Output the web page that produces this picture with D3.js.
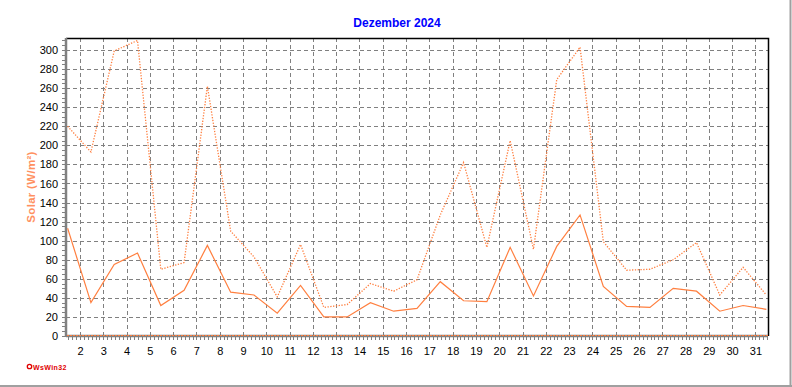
<!DOCTYPE html>
<html>
<head>
<meta charset="utf-8">
<script src="https://cdn.jsdelivr.net/npm/d3@7/dist/d3.min.js"></script>
<style>
  html, body { margin: 0; padding: 0; background: #fff; }
  svg { display: block; }
  text { font-family: "Liberation Sans", Arial, sans-serif; }
</style>
</head>
<body>
<svg id="chart" width="792" height="387"></svg>
<script>
// ---- data ----
const title = "Dezember 2024";
const yLabel = "Solar (W/m²)";
const days = d3.range(1, 32);
// daily maximum (dotted)
const solarMax = [220, 193, 299, 310, 70, 77, 262, 110, 83, 41, 96, 30, 33, 55, 47, 59, 127, 182, 93, 205, 91, 269, 303, 99, 69, 70, 80, 98, 43, 72, 43];
// daily mean (solid)
const solarAvg = [113, 35, 75, 87, 32, 48, 95, 46, 43, 24, 53, 20, 20, 35, 26, 29, 57, 37, 36, 93, 42, 94, 127, 52, 31, 30, 50, 47, 26, 32, 28];
const xTickDays = d3.range(2, 32);
const yTicks = d3.range(0, 301, 20);

// ---- layout ----
const L = 66, R = 768, T = 38, B = 336;
const svg = d3.select("#chart");
const x = d3.scaleLinear().domain([1.40, 31.54]).range([L, R]);
const y = d3.scaleLinear().domain([0, 312.6]).range([B, T]);
const orange = "#FF7F3F";
const grid = "#808080";

// frame of window
svg.append("line").attr("x1", 790.5).attr("x2", 790.5).attr("y1", 0).attr("y2", 387)
  .attr("stroke", "#A0A0A0").attr("stroke-width", 2);
svg.append("line").attr("x1", 0).attr("x2", 792).attr("y1", 386).attr("y2", 386)
  .attr("stroke", "#A0A0A0").attr("stroke-width", 2);

// title
svg.append("text").attr("x", 397).attr("y", 27).attr("text-anchor", "middle")
  .attr("font-size", 12).attr("font-weight", "bold").attr("fill", "#0000FF").text(title);

// gridlines
svg.append("g").selectAll("line").data(yTicks.filter(v => v > 0)).join("line")
  .attr("x1", L).attr("x2", R)
  .attr("y1", d => Math.round(y(d)) + 0.5).attr("y2", d => Math.round(y(d)) + 0.5)
  .attr("stroke", grid).attr("stroke-dasharray", "4,3");
svg.append("g").selectAll("line").data(xTickDays).join("line")
  .attr("x1", d => Math.round(x(d)) + 0.5).attr("x2", d => Math.round(x(d)) + 0.5)
  .attr("y1", T).attr("y2", B)
  .attr("stroke", grid).attr("stroke-dasharray", "4,3");

// top and right border
svg.append("path").attr("d", `M${L},${T + 0.5}H${R + 0.5}V${B}`)
  .attr("fill", "none").attr("stroke", "#000").attr("stroke-width", 1.5);

// y axis
const yAxis = d3.axisLeft(y).tickValues(yTicks).tickSize(0).tickPadding(8);
const gy = svg.append("g").attr("transform", `translate(${L},0)`).call(yAxis);
gy.select(".domain").remove();
gy.selectAll("text").attr("font-size", 11).attr("fill", "#000")
  .style("font-family", "'Liberation Sans', Arial, sans-serif");
// y minor ticks
svg.append("g").selectAll("line").data(d3.range(0, 312, 5)).join("line")
  .attr("x1", L - 4).attr("x2", L)
  .attr("y1", d => Math.round(y(d)) + 0.5).attr("y2", d => Math.round(y(d)) + 0.5)
  .attr("stroke", grid);

// x axis labels
const xAxis = d3.axisBottom(x).tickValues(xTickDays).tickFormat(d3.format("d")).tickSize(0).tickPadding(11);
const gx = svg.append("g").attr("transform", `translate(0,${B})`).call(xAxis);
gx.select(".domain").remove();
gx.selectAll("text").attr("font-size", 11).attr("fill", "#000")
  .style("font-family", "'Liberation Sans', Arial, sans-serif");
// x minor ticks (every 4 h)
const minor = d3.range(1.5, 31.55, 1 / 6).filter(t => x(t) >= L && x(t) <= R);
svg.append("g").selectAll("line").data(minor).join("line")
  .attr("x1", d => Math.round(x(d)) + 0.5).attr("x2", d => Math.round(x(d)) + 0.5)
  .attr("y1", B).attr("y2", B + 4)
  .attr("stroke", grid);

// axis lines (thick gray)
svg.append("line").attr("x1", L).attr("x2", L).attr("y1", T).attr("y2", B + 1)
  .attr("stroke", grid).attr("stroke-width", 2.5);
svg.append("line").attr("x1", L).attr("x2", R).attr("y1", B).attr("y2", B)
  .attr("stroke", grid).attr("stroke-width", 2.5);
svg.append("line").attr("x1", L + 1).attr("x2", R).attr("y1", B - 0.5).attr("y2", B - 0.5)
  .attr("stroke", orange).attr("stroke-width", 1).attr("stroke-dasharray", "2,1");

// y label
svg.append("text").attr("transform", "translate(35,187) rotate(-90)")
  .attr("text-anchor", "middle").attr("font-size", 11.5).attr("font-weight", "bold")
  .attr("letter-spacing", 0.3)
  .attr("fill", "#FF9060").text(yLabel);

// series
const line = d3.line().x((d, i) => x(days[i] + 0.47)).y(d => y(d));
svg.append("path").datum(solarMax).attr("d", line)
  .attr("fill", "none").attr("stroke", orange).attr("stroke-width", 1.3)
  .attr("stroke-dasharray", "1.3,1.5");
svg.append("path").datum(solarAvg).attr("d", line)
  .attr("fill", "none").attr("stroke", orange).attr("stroke-width", 1.2);

// logo
svg.append("circle").attr("cx", 29.5).attr("cy", 366.5).attr("r", 2.2)
  .attr("fill", "none").attr("stroke", "#E00000").attr("stroke-width", 1.3);
svg.append("text").attr("x", 33).attr("y", 369.5).attr("font-size", 7).attr("font-weight", "bold")
  .attr("letter-spacing", 0.4)
  .attr("fill", "#E00000").text("WsWin32");
</script>
</body>
</html>
